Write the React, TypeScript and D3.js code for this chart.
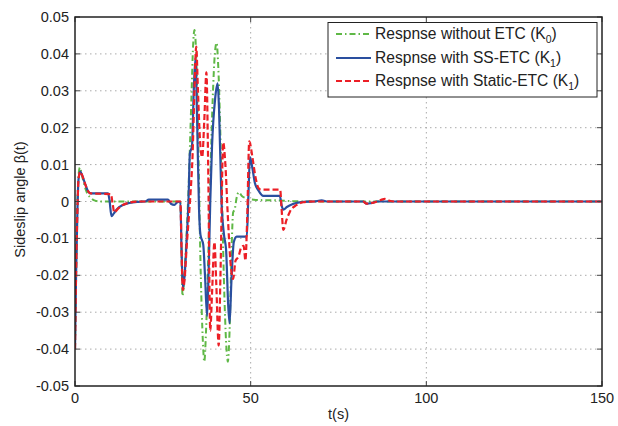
import React from 'react';
import * as d3 from 'd3';

// series (time in s, sideslip angle)
const noEtcTime = [0, 0.3, 0.7, 1.0, 1.4, 2.0, 2.8, 3.6, 4.5, 5.5, 7, 30.0, 30.3, 30.6, 31.0, 31.6, 32.3, 33.2, 33.6, 34.0, 34.4, 35.0, 35.8, 36.4, 36.8, 37.3, 38.2, 39.2, 39.8, 40.3, 40.8, 41.6, 42.5, 43.0, 43.5, 44.0, 44.6, 45.0, 45.5, 46.0, 46.6, 47.5, 49, 52, 58, 62, 66, 150];
const noEtcValue = [-0.04, -0.02, 0.0, 0.007, 0.0092, 0.007, 0.004, 0.002, 0.001, 0.0003, 0, 0, -0.012, -0.0256, -0.022, -0.012, 0.003, 0.03, 0.042, 0.0465, 0.042, 0.02, -0.02, -0.038, -0.0434, -0.035, -0.005, 0.028, 0.04, 0.043, 0.036, 0.01, -0.025, -0.038, -0.0434, -0.035, -0.012, -0.003, -0.002, 0.001, 0.0025, 0.0015, 0.0008, 0.0004, 0.0003, 0.0001, 0, 0];

const ssEtcTime = [0, 0.3, 0.7, 1.0, 1.5, 2.0, 2.8, 3.6, 4.5, 9.4, 9.8, 10.4, 11.0, 12.0, 13.5, 15.5, 18, 20, 21, 26.5, 27.3, 28.3, 29, 30, 30.3, 30.7, 31.2, 31.8, 32.3, 32.7, 33.3, 33.8, 34.3, 34.8, 35.3, 35.7, 36.5, 37.0, 37.6, 38.0, 38.5, 39.0, 39.9, 40.6, 41.0, 41.7, 42.4, 43.0, 43.6, 44.0, 44.5, 45.2, 46.0, 48.9, 49.3, 49.8, 50.5, 51.2, 52.2, 53.6, 58.3, 58.8, 59.3, 60.3, 62, 65, 68, 70.2, 72, 82, 83, 84.5, 86, 150];
const ssEtcValue = [-0.04, -0.02, -0.002, 0.006, 0.0081, 0.0072, 0.005, 0.003, 0.0022, 0.0022, 0.0005, -0.004, -0.0033, -0.002, -0.001, -0.0004, -0.0001, 0, 0.0005, 0.0005, -0.0006, -0.0009, -0.0003, 0, -0.012, -0.0235, -0.02, -0.01, 0.0, 0.013, 0.015, 0.03, 0.039, 0.02, -0.002, -0.009, -0.0117, -0.02, -0.031, -0.02, 0.0, 0.015, 0.028, 0.032, 0.025, 0.0, -0.009, -0.013, -0.028, -0.033, -0.022, -0.011, -0.0095, -0.0095, 0.0, 0.012, 0.009, 0.005, 0.003, 0.0015, 0.0015, -0.001, -0.0022, -0.0015, -0.0007, -0.0001, 0, 0.0003, 0, 0, -0.0006, -0.0004, 0, 0];

const staticEtcTime = [0, 0.3, 0.7, 1.0, 1.5, 2.0, 2.8, 3.6, 4.5, 10.2, 10.7, 11.2, 12.0, 13.5, 15.5, 18, 30, 30.3, 30.7, 31.2, 31.8, 32.5, 33.0, 33.4, 34.0, 34.5, 35.0, 35.5, 36.2, 36.8, 37.4, 37.9, 38.5, 39.0, 39.7, 40.2, 40.9, 41.4, 42.2, 42.8, 43.5, 44.3, 45.0, 45.7, 46.5, 47.3, 48.0, 48.5, 49.0, 49.6, 50.5, 51.3, 52.2, 53, 58.4, 58.8, 59.3, 60.2, 61.2, 63, 65, 68, 82, 83, 85, 87, 88.2, 89.5, 91, 150];
const staticEtcValue = [-0.04, -0.02, -0.002, 0.006, 0.0081, 0.0072, 0.005, 0.003, 0.0022, 0.002, -0.0005, -0.003, -0.0022, -0.001, -0.0003, 0, 0, -0.012, -0.024, -0.021, -0.012, -0.003, 0.004, 0.011, 0.03, 0.042, 0.03, 0.018, 0.012, 0.022, 0.035, 0.01, -0.035, -0.025, -0.011, -0.022, -0.039, -0.02, 0.016, 0.01, -0.004, -0.017, -0.021, -0.016, -0.015, -0.0125, -0.012, -0.016, -0.005, 0.0163, 0.012, 0.007, 0.0037, 0.0032, 0.0032, -0.002, -0.0077, -0.005, -0.0027, -0.001, -0.0002, 0, 0, -0.0006, -0.0003, 0.0004, 0.0007, 0.0002, 0, 0];

const xTicks = [0, 50, 100, 150];
const yTicks = [-0.05, -0.04, -0.03, -0.02, -0.01, 0, 0.01, 0.02, 0.03, 0.04, 0.05];

const seriesNames = ['Respnse without ETC (K', 'Respnse with SS-ETC (K', 'Respnse with Static-ETC (K'];
const seriesSubs = ['0', '1', '1'];

const W = 618;
const H = 426;
const margin = { top: 17, right: 16, bottom: 40, left: 75 };
const font = '"Liberation Sans", Arial, Helvetica, sans-serif';
const fs = 14.5;

const App = () => {
  const x = d3.scaleLinear().domain([0, 150]).range([margin.left, W - margin.right]);
  const y = d3.scaleLinear().domain([-0.05, 0.05]).range([H - margin.bottom, margin.top]);

  const line = d3.line<[number, number]>()
    .x((d) => x(d[0]))
    .y((d) => y(d[1]))
    .curve(d3.curveMonotoneX);

  const zip = (t: number[], v: number[]) => t.map((ti, i) => [ti, v[i]] as [number, number]);

  const series = [
    { pts: zip(noEtcTime, noEtcValue), color: '#5fb846', dash: '6,3,1.5,3', width: 2 },
    { pts: zip(ssEtcTime, ssEtcValue), color: '#2a4f9f', dash: 'none', width: 2.2 },
    { pts: zip(staticEtcTime, staticEtcValue), color: '#ec1f26', dash: '6,3', width: 2.2 },
  ];

  const x0 = margin.left;
  const x1 = W - margin.right;
  const y0 = margin.top;
  const y1 = H - margin.bottom;

  const lg = { x: 328, y: 22.5, w: 269, h: 74.5 };
  const rows = [34, 58, 81];

  return (
    <svg width={W} height={H} style={{ position: 'absolute', left: 0, top: 0, background: '#fff' }}>
      <defs>
        <clipPath id="plot">
          <rect x={x0} y={y0} width={x1 - x0} height={y1 - y0} />
        </clipPath>
      </defs>
      <rect x={0} y={0} width={W} height={H} fill="#fff" />

      {/* grid */}
      {xTicks.slice(1, -1).map((t) => (
        <line key={'gx' + t} x1={x(t)} x2={x(t)} y1={y0} y2={y1} stroke="#aaa" strokeWidth={1} strokeDasharray="1.5,3.5" />
      ))}
      {yTicks.slice(1, -1).map((t) => (
        <line key={'gy' + t} x1={x0} x2={x1} y1={y(t)} y2={y(t)} stroke="#aaa" strokeWidth={1} strokeDasharray="1.5,3.5" />
      ))}

      {/* series */}
      <g clipPath="url(#plot)">
        {series.map((s, i) => (
          <path key={i} d={line(s.pts) || ''} fill="none" stroke={s.color} strokeWidth={s.width}
            strokeDasharray={s.dash} strokeLinejoin="round" />
        ))}
      </g>

      {/* ticks inward */}
      {xTicks.map((t) => (
        <g key={'tx' + t}>
          <line x1={x(t)} x2={x(t)} y1={y1} y2={y1 - 5} stroke="#444" />
          <line x1={x(t)} x2={x(t)} y1={y0} y2={y0 + 5} stroke="#444" />
          <text x={x(t)} y={403} textAnchor="middle" fontFamily={font} fontSize={fs} fill="#222">{t}</text>
        </g>
      ))}
      {yTicks.map((t) => (
        <g key={'ty' + t}>
          <line x1={x0} x2={x0 + 5} y1={y(t)} y2={y(t)} stroke="#444" />
          <line x1={x1} x2={x1 - 5} y1={y(t)} y2={y(t)} stroke="#444" />
          <text x={69} y={y(t) + 5} textAnchor="end" fontFamily={font} fontSize={fs} fill="#222">
            {t === 0 ? '0' : d3.format('.2f')(t).replace('−', '-')}
          </text>
        </g>
      ))}

      {/* frame */}
      <rect x={x0} y={y0} width={x1 - x0} height={y1 - y0} fill="none" stroke="#222" strokeWidth={1.5} />

      {/* axis labels */}
      <text x={(x0 + x1) / 2} y={419} textAnchor="middle" fontFamily={font} fontSize={fs} fill="#222">t(s)</text>
      <text transform={`translate(25,${(y0 + y1) / 2 - 2}) rotate(-90)`} textAnchor="middle" fontFamily={font} fontSize={fs} fill="#222">
        Sideslip angle β(t)
      </text>

      {/* legend */}
      <rect x={lg.x} y={lg.y} width={lg.w} height={lg.h} fill="#fff" stroke="#222" strokeWidth={1} />
      {series.map((s, i) => (
        <g key={'lg' + i}>
          <line x1={336} x2={371} y1={rows[i]} y2={rows[i]} stroke={s.color} strokeWidth={s.width} strokeDasharray={s.dash} />
          <text x={375} y={rows[i] + 5} fontFamily={font} fontSize={15.6} fill="#222">
            {seriesNames[i]}
            <tspan dy={4} fontSize={10.5}>{seriesSubs[i]}</tspan>
            <tspan dy={-4}>)</tspan>
          </text>
        </g>
      ))}
    </svg>
  );
};

export default App;
